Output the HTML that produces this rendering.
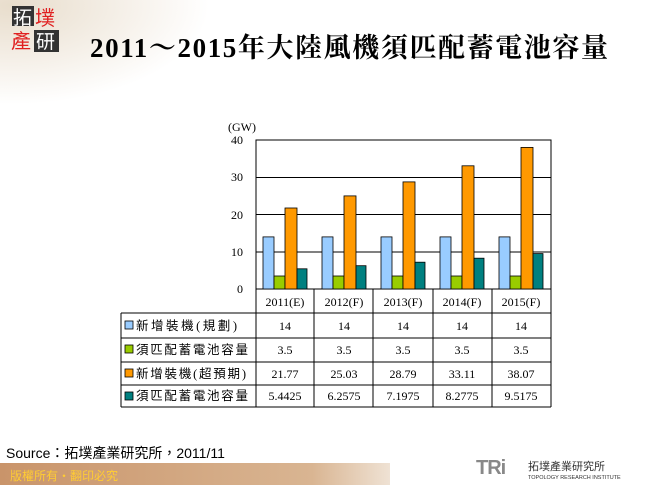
<!DOCTYPE html>
<html><head><meta charset="utf-8"><style>
html,body{margin:0;padding:0;background:#fff;}
body{width:650px;height:485px;overflow:hidden;position:relative;}
svg{position:absolute;left:0;top:0;}
</style></head><body>
<svg width="650" height="485" viewBox="0 0 650 485" xmlns="http://www.w3.org/2000/svg">
<defs>
<radialGradient id="bg" cx="0.05" cy="0.05" r="0.9">
<stop offset="0" stop-color="#e8ddcc"/><stop offset="0.6" stop-color="#f6f1ea"/><stop offset="1" stop-color="#fff"/>
</radialGradient>
<linearGradient id="bar" x1="0" y1="0" x2="1" y2="0">
<stop offset="0" stop-color="#c9946a"/><stop offset="0.8" stop-color="#d9b592"/><stop offset="1" stop-color="#efe2d4"/>
</linearGradient>
</defs>
<rect x="0" y="0" width="220" height="110" fill="url(#bg)"/>
<!-- logo -->
<rect x="12" y="6" width="22" height="20" fill="#333"/>
<text x="13" y="24" font-family="Noto Sans CJK TC, sans-serif" font-size="19" fill="#fff">拓</text>
<text x="35" y="25" font-family="Noto Sans CJK TC, sans-serif" font-size="20" fill="#e02020">墣</text>
<text x="11" y="48" font-family="Noto Sans CJK TC, sans-serif" font-size="20" fill="#e02020">產</text>
<rect x="34" y="30" width="25" height="22" fill="#333"/>
<text x="36" y="48" font-family="Noto Sans CJK TC, sans-serif" font-size="19" fill="#fff">研</text>
<text x="90" y="57" font-family="Liberation Serif, Noto Serif CJK SC, serif" font-size="27" font-weight="bold" textLength="518" lengthAdjust="spacing">2011～2015年大陸風機須匹配蓄電池容量</text>

<!-- plot -->
<g stroke="#000" stroke-width="1">
<line x1="256" y1="177.5" x2="551" y2="177.5"/>
<line x1="256" y1="214.5" x2="551" y2="214.5"/>
<line x1="256" y1="252" x2="551" y2="252"/>
<rect x="256" y="140" width="295" height="149" fill="none"/>
</g>
<g font-family="Liberation Serif, serif" font-size="12" text-anchor="end">
<text x="243" y="144">40</text><text x="243" y="181">30</text><text x="243" y="219">20</text><text x="243" y="256">10</text><text x="243" y="293">0</text>
<text x="256" y="131">(GW)</text>
</g>
<g stroke="#000" stroke-width="0.8">
<rect x="263" y="236.9" width="11" height="52.1" fill="#99ccff"/>
<rect x="274" y="276" width="11" height="13" fill="#99cc00"/>
<rect x="285" y="208" width="12" height="81" fill="#ff9900"/>
<rect x="297" y="268.8" width="10" height="20.2" fill="#008080"/>
<rect x="322" y="236.9" width="11" height="52.1" fill="#99ccff"/>
<rect x="333" y="276" width="11" height="13" fill="#99cc00"/>
<rect x="344" y="195.9" width="12" height="93.1" fill="#ff9900"/>
<rect x="356" y="265.7" width="10" height="23.3" fill="#008080"/>
<rect x="381" y="236.9" width="11" height="52.1" fill="#99ccff"/>
<rect x="392" y="276" width="11" height="13" fill="#99cc00"/>
<rect x="403" y="181.9" width="12" height="107.1" fill="#ff9900"/>
<rect x="415" y="262.2" width="10" height="26.8" fill="#008080"/>
<rect x="440" y="236.9" width="11" height="52.1" fill="#99ccff"/>
<rect x="451" y="276" width="11" height="13" fill="#99cc00"/>
<rect x="462" y="165.8" width="12" height="123.2" fill="#ff9900"/>
<rect x="474" y="258.2" width="10" height="30.8" fill="#008080"/>
<rect x="499" y="236.9" width="11" height="52.1" fill="#99ccff"/>
<rect x="510" y="276" width="11" height="13" fill="#99cc00"/>
<rect x="521" y="147.4" width="12" height="141.6" fill="#ff9900"/>
<rect x="533" y="253.6" width="10" height="35.4" fill="#008080"/>
</g>

<!-- table -->
<g stroke="#000" stroke-width="1" fill="none">
<line x1="256" y1="289" x2="256" y2="407"/>
<line x1="314" y1="289" x2="314" y2="407"/>
<line x1="373" y1="289" x2="373" y2="407"/>
<line x1="433" y1="289" x2="433" y2="407"/>
<line x1="492" y1="289" x2="492" y2="407"/>
<line x1="551" y1="289" x2="551" y2="407"/>
<line x1="121" y1="313" x2="551" y2="313"/>
<line x1="121" y1="338" x2="551" y2="338"/>
<line x1="121" y1="362" x2="551" y2="362"/>
<line x1="121" y1="385" x2="551" y2="385"/>
<line x1="121" y1="407" x2="551" y2="407"/>
<line x1="121" y1="313" x2="121" y2="407"/>
</g>
<g font-family="Liberation Serif, serif" font-size="12" text-anchor="middle">
<text x="285" y="306">2011(E)</text><text x="344" y="306">2012(F)</text><text x="403" y="306">2013(F)</text><text x="462" y="306">2014(F)</text><text x="521" y="306">2015(F)</text>
<text x="285" y="330">14</text><text x="344" y="330">14</text><text x="403" y="330">14</text><text x="462" y="330">14</text><text x="521" y="330">14</text>
<text x="285" y="354">3.5</text><text x="344" y="354">3.5</text><text x="403" y="354">3.5</text><text x="462" y="354">3.5</text><text x="521" y="354">3.5</text>
<text x="285" y="378">21.77</text><text x="344" y="378">25.03</text><text x="403" y="378">28.79</text><text x="462" y="378">33.11</text><text x="521" y="378">38.07</text>
<text x="285" y="400">5.4425</text><text x="344" y="400">6.2575</text><text x="403" y="400">7.1975</text><text x="462" y="400">8.2775</text><text x="521" y="400">9.5175</text>
</g>
<g stroke="#000" stroke-width="0.8">
<rect x="125" y="321" width="8" height="8" fill="#99ccff"/>
<rect x="125" y="345" width="8" height="8" fill="#99cc00"/>
<rect x="125" y="369" width="8" height="8" fill="#ff9900"/>
<rect x="125" y="392" width="8" height="8" fill="#008080"/>
</g>
<g font-family="Liberation Serif, Noto Sans CJK TC, sans-serif" font-size="12.5">
<text x="136" y="330" textLength="101" lengthAdjust="spacing">新增裝機(規劃)</text>
<text x="136" y="354" textLength="112" lengthAdjust="spacing">須匹配蓄電池容量</text>
<text x="136" y="378" textLength="110" lengthAdjust="spacing">新增裝機(超預期)</text>
<text x="136" y="400" textLength="112" lengthAdjust="spacing">須匹配蓄電池容量</text>
</g>

<text x="6" y="458" font-family="Liberation Sans, Noto Sans CJK TC, sans-serif" font-size="14">Source：拓墣產業研究所，2011/11</text>
<rect x="0" y="463" width="390" height="22" fill="url(#bar)"/>
<text x="10" y="480" font-family="Noto Sans CJK TC, sans-serif" font-size="12" fill="#ffcc33">版權所有‧翻印必究</text>
<text x="476" y="474" font-family="Liberation Sans, sans-serif" font-size="20" font-weight="bold" fill="#888" letter-spacing="-1">TRi</text>
<text x="528" y="470" font-family="Noto Sans CJK TC, sans-serif" font-size="11" fill="#333">拓墣產業研究所</text>
<text x="528" y="479" font-family="Liberation Sans, sans-serif" font-size="5.5" fill="#333">TOPOLOGY RESEARCH INSTITUTE</text>
</svg>
</body></html>
